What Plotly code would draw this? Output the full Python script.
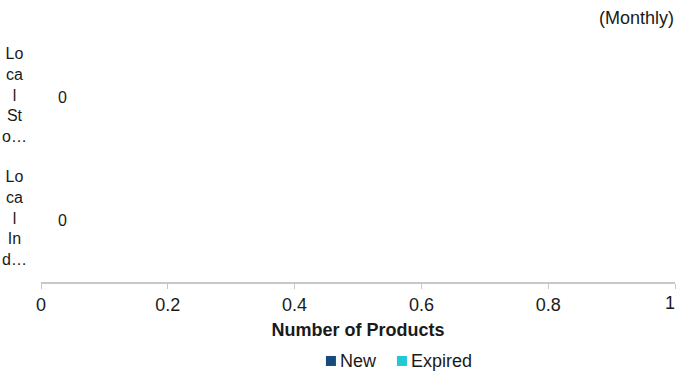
import plotly.graph_objects as go

# Product counts per market segment
categories = ["Local Stocks", "Local Indices"]
new_counts = [0, 0]
expired_counts = [0, 0]
x_ticks = [0, 0.2, 0.4, 0.6, 0.8, 1]
series_names = ["New", "Expired"]
series_colors = ["#174a7c", "#22c9d4"]

FONT = "Liberation Sans, Arial, sans-serif"
TEXT = "#1a1a1a"


def wrap_label(name, chunk=2, limit=9):
    """Truncate a category name and break it into narrow lines."""
    short = name[:limit]
    parts = [short[i:i + chunk].strip() for i in range(0, len(short), chunk)]
    if len(name) > limit:
        parts[-1] += "…"
    return "<br>".join(parts)


totals = [n + e for n, e in zip(new_counts, expired_counts)]

# Tick text; the last label is drawn right-aligned separately so it stays on the page
tick_text = [f"{v:g}" for v in x_ticks]
last_tick_text = tick_text[-1]
tick_text[-1] = ""

fig = go.Figure()
for name, vals, color in zip(series_names, [new_counts, expired_counts], series_colors):
    fig.add_trace(go.Bar(y=categories, x=vals, name=name, orientation="h",
                         marker=dict(color=color, line=dict(width=0)),
                         showlegend=False))

annotations = []
# Category labels, centred and wrapped
for cat in categories:
    annotations.append(dict(x=0, xref="paper", y=cat, yref="y", text=wrap_label(cat),
                            showarrow=False, xanchor="center", align="center",
                            xshift=-27, yshift=3,
                            font=dict(family=FONT, size=16, color=TEXT)))
# Total value labels
for cat, tot in zip(categories, totals):
    annotations.append(dict(x=tot, xref="x", y=cat, yref="y", text=f"{tot:g}",
                            showarrow=False, xanchor="left", xshift=15,
                            font=dict(family=FONT, size=16, color=TEXT)))
annotations.append(dict(x=1, xref="paper", y=1, yref="paper", text="(Monthly)",
                        showarrow=False, xanchor="right", yanchor="middle", yshift=18,
                        xshift=1, font=dict(family=FONT, size=18, color=TEXT)))
# Final x tick label, right-aligned at its tick
annotations.append(dict(x=x_ticks[-1], xref="x", y=0, yref="paper", text=last_tick_text,
                        showarrow=False, xanchor="right", yanchor="middle",
                        xshift=2, yshift=-21, font=dict(family=FONT, size=18, color=TEXT)))

# Compact legend below the axis title: square swatch followed by its name
LEG_X = 0.563
LEG_Y = -0.321
shapes = []
swatch_offsets = [-72, -1]
for name, color, off in zip(series_names, series_colors, swatch_offsets):
    shapes.append(dict(type="rect", xref="paper", yref="paper",
                       xsizemode="pixel", ysizemode="pixel",
                       xanchor=LEG_X, yanchor=LEG_Y,
                       x0=off, x1=off + 10, y0=-5, y1=5,
                       fillcolor=color, line=dict(width=0)))
    annotations.append(dict(x=LEG_X, xref="paper", y=LEG_Y, yref="paper", text=name,
                            showarrow=False, xanchor="left", yanchor="middle",
                            xshift=off + 12, font=dict(family=FONT, size=18, color=TEXT)))

fig.update_layout(
    width=678, height=374,
    margin=dict(l=41, r=3, t=36, b=92),
    paper_bgcolor="white", plot_bgcolor="white",
    barmode="stack",
    font=dict(family=FONT, size=18, color=TEXT),
    showlegend=False,
    annotations=annotations,
    shapes=shapes,
)
fig.update_xaxes(range=[0, 1], tickvals=x_ticks, ticktext=tick_text,
                 showgrid=False, zeroline=False, showline=True, linecolor="#c8c8c8",
                 linewidth=2, ticks="outside", ticklen=5, tickcolor="#c8c8c8",
                 automargin=False,
                 tickfont=dict(family=FONT, size=18, color=TEXT),
                 title=dict(text="<b>Number of Products</b>", standoff=10,
                            font=dict(family=FONT, size=18, color=TEXT)))
fig.update_yaxes(categoryorder="array", categoryarray=categories, autorange="reversed",
                 showticklabels=False, showgrid=False, zeroline=False, showline=False,
                 automargin=False)

fig.write_html("out.html")
